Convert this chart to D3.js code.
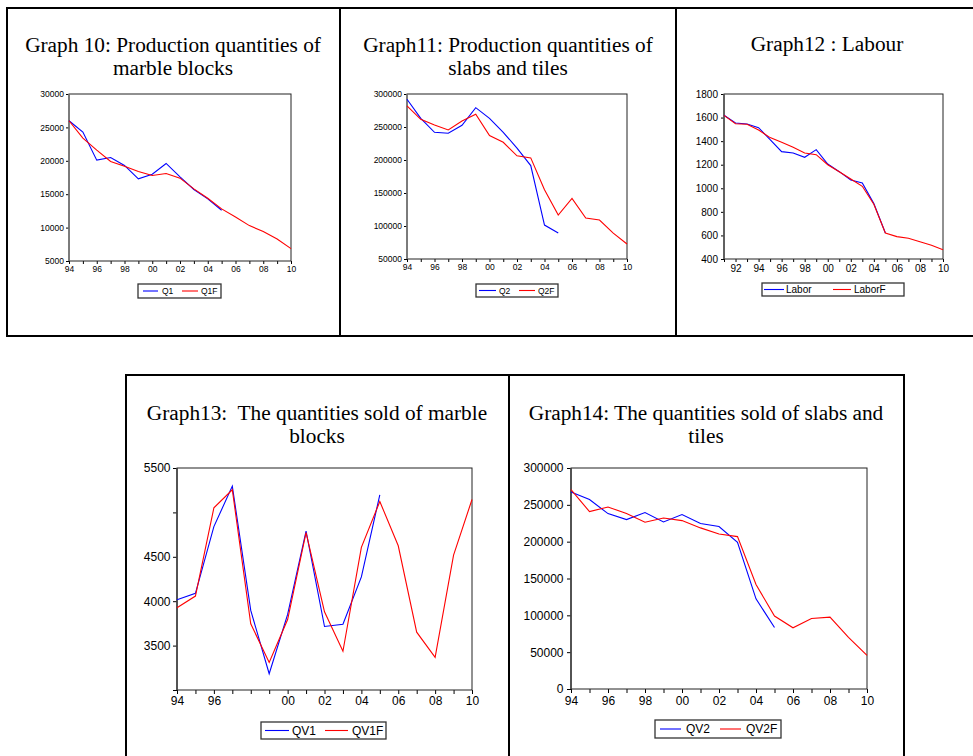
<!DOCTYPE html>
<html>
<head>
<meta charset="utf-8">
<script src="https://cdn.jsdelivr.net/npm/d3@7"></script>
<style>
  body { margin:0; background:#fff; }
  svg { display:block; }
  .title { font-family:"Liberation Serif","Times New Roman",serif; font-size:21.3px; white-space:pre; fill:#000; }
  .axis text { font-family:"Liberation Sans",Arial,sans-serif; fill:#000; }
  .legend text { font-family:"Liberation Sans",Arial,sans-serif; fill:#000; }
</style>
</head>
<body>
<div id="scene"></div>
<script>
// ---------- data ----------
var years94 = [1994,1995,1996,1997,1998,1999,2000,2001,2002,2003,2004,2005,2006,2007,2008,2009,2010];
var years91 = [1991,1992,1993,1994,1995,1996,1997,1998,1999,2000,2001,2002,2003,2004,2005,2006,2007,2008,2009,2010];

// Graph 10
var q1  = [26000,24300,20100,20500,19300,17300,18000,19600,17600,15700,14300,12600];
var q1f = [26000,23400,21600,19900,19200,18400,17800,18100,17400,15800,14400,12800,11600,10300,9400,8300,6850];
var g10YTicks = [5000,10000,15000,20000,25000,30000];
var g10YLabels = ["5000","10000","15000","20000","25000","30000"];
var g10XLabels = [1994,1996,1998,2000,2002,2004,2006,2008,2010];

// Graph 11
var q2  = [292000,263000,242000,240500,252600,279300,263000,242000,218000,191600,101400,89300];
var q2f = [281900,261700,253100,245600,259200,269300,237000,226900,206300,203200,154800,116500,141700,112000,109000,89300,72700];
var g11YTicks = [50000,100000,150000,200000,250000,300000];
var g11YLabels = ["50000","100000","150000","200000","250000","300000"];
var g11XLabels = [1994,1996,1998,2000,2002,2004,2006,2008,2010];

// Graph 12
var labor  = [1619,1554,1545,1514,1413,1311,1299,1263,1328,1206,1141,1070,1045,870,621];
var laborF = [1619,1548,1543,1495,1430,1390,1348,1299,1285,1200,1141,1079,1017,864,621,590,576,547,516,479];
var g12YTicks = [400,600,800,1000,1200,1400,1600,1800];
var g12YLabels = ["400","600","800","1000","1200","1400","1600","1800"];
var g12XLabels = [1992,1994,1996,1998,2000,2002,2004,2006,2008,2010];

// Graph 13
var qv1  = [4017,4089,4840,5296,3896,3183,3851,4790,3715,3741,4273,5198];
var qv1f = [3926,4058,5051,5255,3745,3311,3794,4772,3881,3436,4606,5123,4624,3651,3368,4519,5145];
var g13YTicks = [3000,3500,4000,4500,5000,5500];
var g13YLabels = ["","3500","4000","4500","","5500"];
var g13XLabels = [1994,1996,2000,2002,2004,2006,2008,2010];

// Graph 14
var qv2  = [267500,257100,238100,230000,239500,226800,236800,224600,220500,199200,122400,83500];
var qv2f = [270600,240800,247100,238100,226300,232200,228600,218700,210500,206900,141900,99000,83100,95800,97600,70000,45600];
var g14YTicks = [0,50000,100000,150000,200000,250000,300000];
var g14YLabels = ["0","50000","100000","150000","200000","250000","300000"];
var g14XLabels = [1994,1996,1998,2000,2002,2004,2006,2008,2010];

var blue = "#0000ff", red = "#ff0000";

var panels = [
  { title:["Graph 10: Production quantities of","marble blocks"], tx:173, ty:52,
    plot:{x0:69, x1:291, y0:94, y1:261}, years:years94,
    series:[{name:"Q1", values:q1, color:blue},{name:"Q1F", values:q1f, color:red}],
    yDomain:[5000,30000], yTicks:g10YTicks, yLabels:g10YLabels, xLabels:g10XLabels,
    font:8.5, tickSize:3, tickPad:2, leftAxis:"#777",
    legend:{x:138, y:284, w:83, h:14, items:[[5,20,24],[44,60,63]]} },
  { title:["Graph11: Production quantities of","slabs and tiles"], tx:508, ty:52,
    plot:{x0:407, x1:627, y0:94, y1:259}, years:years94,
    series:[{name:"Q2", values:q2, color:blue},{name:"Q2F", values:q2f, color:red}],
    yDomain:[50000,300000], yTicks:g11YTicks, yLabels:g11YLabels, xLabels:g11XLabels,
    font:8.5, tickSize:3, tickPad:2, leftAxis:"#777",
    legend:{x:476, y:284, w:82, h:13, items:[[3,20,23],[43,59,62]]} },
  { title:["Graph12 : Labour"], tx:827, ty:51,
    plot:{x0:724, x1:943, y0:94, y1:259}, years:years91,
    series:[{name:"Labor", values:labor, color:blue},{name:"LaborF", values:laborF, color:red}],
    yDomain:[400,1800], yTicks:g12YTicks, yLabels:g12YLabels, xLabels:g12XLabels,
    font:10, tickSize:3, tickPad:3, leftAxis:"#555",
    legend:{x:762, y:283, w:142, h:13, items:[[2,22,24],[71,89,92]]} },
  { title:["Graph13:  The quantities sold of marble","blocks"], tx:317, ty:420,
    plot:{x0:177, x1:472, y0:468, y1:690}, years:years94,
    series:[{name:"QV1", values:qv1, color:blue},{name:"QV1F", values:qv1f, color:red}],
    yDomain:[3000,5500], yTicks:g13YTicks, yLabels:g13YLabels, xLabels:g13XLabels,
    font:12, tickSize:4, tickPad:2.5, leftAxis:"#444",
    legend:{x:261, y:722, w:125, h:17, items:[[4,28,31],[64,87,91]]} },
  { title:["Graph14: The quantities sold of slabs and","tiles"], tx:706, ty:420,
    plot:{x0:571, x1:867, y0:468, y1:689}, years:years94,
    series:[{name:"QV2", values:qv2, color:blue},{name:"QV2F", values:qv2f, color:red}],
    yDomain:[0,300000], yTicks:g14YTicks, yLabels:g14YLabels, xLabels:g14XLabels,
    font:12, tickSize:4, tickPad:3.5, leftAxis:"#444",
    legend:{x:655, y:720, w:126, h:18, items:[[5,26,31],[65,86,91]]} }
];

var svg = d3.select("#scene").append("svg")
  .attr("width", 973)
  .attr("height", 756);

svg.append("rect").attr("width", 973).attr("height", 756).attr("fill", "#fff");

// table borders
var borders = [
  [6,8,985,8], [7,7,7,337], [340,7,340,337], [676,7,676,337], [6,336,985,336],
  [126,375,904,375], [126,374,126,760], [509,374,509,760], [904,374,904,760]
];
svg.selectAll("line.border")
  .data(borders)
  .enter()
  .append("line")
  .attr("class", "border")
  .attr("x1", function(d){ return d[0]; })
  .attr("y1", function(d){ return d[1]; })
  .attr("x2", function(d){ return d[2]; })
  .attr("y2", function(d){ return d[3]; })
  .attr("stroke", "#000")
  .attr("stroke-width", 2);

var drawPanel = function(p) {
  var g = svg.append("g");

  // title
  var t = g.append("text")
    .attr("class", "title")
    .attr("text-anchor", "middle");
  p.title.forEach(function(line, i) {
    t.append("tspan")
      .attr("x", p.tx)
      .attr("y", p.ty + i * 23)
      .text(line);
  });

  var x = d3.scaleLinear()
    .domain([p.years[0], p.years[p.years.length - 1]])
    .range([p.plot.x0, p.plot.x1]);
  var y = d3.scaleLinear()
    .domain(p.yDomain)
    .range([p.plot.y1, p.plot.y0]);

  var xAxis = d3.axisBottom(x)
    .tickValues(p.years)
    .tickFormat(function(d) {
      return p.xLabels.indexOf(d) >= 0 ? String(d).slice(2) : "";
    })
    .tickSize(p.tickSize)
    .tickSizeOuter(0)
    .tickPadding(p.tickPad);

  var yAxis = d3.axisLeft(y)
    .tickValues(p.yTicks)
    .tickFormat(function(d, i) { return p.yLabels[i]; })
    .tickSize(p.tickSize)
    .tickSizeOuter(0)
    .tickPadding(p.tickPad);

  var gx = g.append("g")
    .attr("class", "axis")
    .attr("transform", "translate(0," + p.plot.y1 + ")")
    .call(xAxis);
  var gy = g.append("g")
    .attr("class", "axis")
    .attr("transform", "translate(" + p.plot.x0 + ",0)")
    .call(yAxis);

  [gx, gy].forEach(function(a) {
    a.select(".domain").remove();
    a.selectAll("text").style("font-size", p.font + "px");
    a.selectAll("line").attr("stroke", "#000");
  });

  // plot frame
  g.append("rect")
    .attr("x", p.plot.x0)
    .attr("y", p.plot.y0)
    .attr("width", p.plot.x1 - p.plot.x0)
    .attr("height", p.plot.y1 - p.plot.y0)
    .attr("fill", "none")
    .attr("stroke", "#222")
    .attr("stroke-width", 1);
  // left axis is drawn a bit heavier and greyer
  g.append("line")
    .attr("x1", p.plot.x0).attr("x2", p.plot.x0)
    .attr("y1", p.plot.y0).attr("y2", p.plot.y1)
    .attr("stroke", p.leftAxis)
    .attr("stroke-width", 1.6);

  var line = d3.line()
    .x(function(d) { return x(d[0]); })
    .y(function(d) { return y(d[1]); });

  p.series.forEach(function(s) {
    var pts = s.values.map(function(v, i) { return [p.years[i], v]; });
    g.append("path")
      .datum(pts)
      .attr("d", line)
      .attr("fill", "none")
      .attr("stroke", s.color)
      .attr("stroke-width", 1.1);
  });

  // legend
  var L = p.legend;
  var lg = g.append("g")
    .attr("class", "legend")
    .attr("transform", "translate(" + L.x + "," + L.y + ")");
  lg.append("rect")
    .attr("width", L.w)
    .attr("height", L.h)
    .attr("fill", "#fff")
    .attr("stroke", "#333")
    .attr("stroke-width", 1.3);
  p.series.forEach(function(s, i) {
    var it = L.items[i];
    lg.append("line")
      .attr("x1", it[0]).attr("x2", it[1])
      .attr("y1", L.h / 2).attr("y2", L.h / 2)
      .attr("stroke", s.color)
      .attr("stroke-width", 1.1);
    lg.append("text")
      .attr("x", it[2])
      .attr("y", L.h / 2)
      .attr("dy", "0.36em")
      .style("font-size", p.font + "px")
      .text(s.name);
  });
};

panels.forEach(drawPanel);
</script>
</body>
</html>
